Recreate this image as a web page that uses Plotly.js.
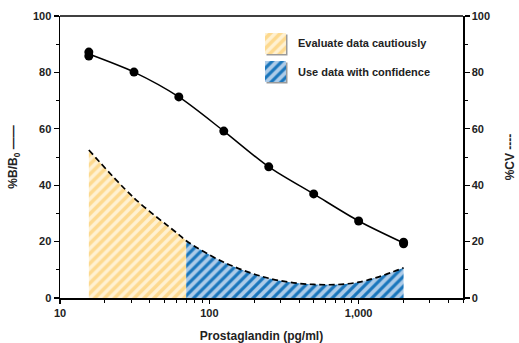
<!DOCTYPE html>
<html><head><meta charset="utf-8">
<script src="https://cdn.plot.ly/plotly-3.0.1.min.js"></script>
<style>html,body{margin:0;padding:0;background:#fff}</style>
</head><body>
<div id="chart" style="width:519px;height:343px"></div>
<script>
// ---- data ----
const stdConc = [15.6, 15.6, 31.3, 62.5, 125, 250, 500, 1000, 2000, 2000];   // pg/ml
const stdBB0  = [87.2, 85.8, 80.1, 71.3, 59.2, 46.5, 36.9, 27.3, 19.8, 19.2]; // %B/B0 points
const fitConc = [15.6, 31.3, 62.5, 125, 250, 500, 1000, 2000];
const fitBB0  = [86.5, 80.1, 71.3, 59.2, 46.5, 36.9, 27.3, 19.5];             // fitted curve
const cvConc  = [15.6, 31.3, 62.5, 70, 125, 250, 500, 1000, 2000];
const cvVal   = [52.5, 35.5, 22.5, 20.3, 12.7, 7.0, 4.8, 5.6, 10.7];           // %CV
const cautionLimit = 70;  // pg/ml boundary between the two zones
const xTickVals = [10, 100, 1000];
const xTickText = ['10', '100', '1,000'];
const legendLabels = ['Evaluate data cautiously', 'Use data with confidence'];

const FONT = 'Liberation Sans, Arial, Helvetica, sans-serif';
const yellowPat = {shape: '/', bgcolor: '#fff1d2', fgcolor: '#fdd98e', size: 7, solidity: 0.5};
const bluePat   = {shape: '/', bgcolor: '#adcbe8', fgcolor: '#1a76bc', size: 7, solidity: 0.45};

const yelIdx = cvConc.map((c, i) => i).filter(i => cvConc[i] <= cautionLimit);
const bluIdx = cvConc.map((c, i) => i).filter(i => cvConc[i] >= cautionLimit);

const traces = [
  {x: yelIdx.map(i => cvConc[i]), y: yelIdx.map(i => cvVal[i]), yaxis: 'y2', type: 'scatter', mode: 'lines',
   line: {width: 0, shape: 'spline'}, fill: 'tozeroy', fillcolor: yellowPat.bgcolor, fillpattern: yellowPat,
   showlegend: false, hoverinfo: 'skip'},
  {x: bluIdx.map(i => cvConc[i]), y: bluIdx.map(i => cvVal[i]), yaxis: 'y2', type: 'scatter', mode: 'lines',
   line: {width: 0, shape: 'spline'}, fill: 'tozeroy', fillcolor: bluePat.bgcolor, fillpattern: bluePat,
   showlegend: false, hoverinfo: 'skip'},
  {x: cvConc, y: cvVal, yaxis: 'y2', type: 'scatter', mode: 'lines',
   line: {color: '#000', width: 1.7, dash: '6px,3.5px', shape: 'spline'}, showlegend: false},
  {x: fitConc, y: fitBB0, type: 'scatter', mode: 'lines',
   line: {color: '#000', width: 1.5, shape: 'spline', smoothing: 0.8}, showlegend: false},
  {x: stdConc, y: stdBB0, type: 'scatter', mode: 'markers',
   marker: {color: '#000', size: 9}, showlegend: false}
];

// legend swatches (drawn on an overlay axis in 0..1 units)
const sw = {x0: (265 - 60) / 403, x1: (286 - 60) / 403};
const swY = [[(298 - 54) / 282, (298 - 33) / 282], [(298 - 82) / 282, (298 - 61) / 282]];
[yellowPat, bluePat].forEach((p, k) => {
  const [y0, y1] = swY[k];
  traces.push({x: [sw.x0, sw.x1, sw.x1, sw.x0, sw.x0], y: [y0, y0, y1, y1, y0], xaxis: 'x3', yaxis: 'y3',
    type: 'scatter', mode: 'lines', line: {width: 0}, fill: 'toself', fillcolor: p.bgcolor, fillpattern: p,
    showlegend: false, hoverinfo: 'skip'});
});

const shapes = swY.map(([y0, y1]) => ({type: 'rect', xref: 'paper', yref: 'paper', layer: 'below',
  x0: sw.x0 + 1.5 / 403, x1: sw.x1 + 1.5 / 403, y0: y0 - 1.5 / 282, y1: y1 - 1.5 / 282,
  fillcolor: '#9a9a9a', line: {width: 0}}));

const annotations = legendLabels.map((t, k) => ({
  text: t, xref: 'paper', yref: 'paper', x: (296 - 60) / 403, y: (swY[k][0] + swY[k][1]) / 2,
  xanchor: 'left', yanchor: 'middle', showarrow: false,
  font: {family: FONT, size: 11, color: '#222', weight: 'bold'}}));
// top frame line
shapes.push({type: 'line', xref: 'paper', yref: 'paper', x0: 0, x1: 1, y0: 1, y1: 1, line: {color: '#000', width: 1.5}});

const tickFont = {family: FONT, size: 11, color: '#222', weight: 'bold'};
const yCommon = {range: [0, 100], dtick: 20, ticks: 'outside', ticklen: 5, tickwidth: 1.2, tickcolor: '#000',
  showline: true, linecolor: '#000', linewidth: 1.5, showgrid: false, zeroline: false, tickfont: tickFont,
  minor: {dtick: 10, ticks: 'outside', ticklen: 3, tickwidth: 1, tickcolor: '#000'}, fixedrange: true};

const layout = {
  width: 519, height: 343, margin: {l: 60, r: 56, t: 16, b: 45},
  paper_bgcolor: '#fff', plot_bgcolor: '#fff', showlegend: false,
  font: {family: FONT, color: '#222'},
  xaxis: {type: 'log', range: [1, Math.log10(5000)], tickvals: xTickVals, ticktext: xTickText,
    ticks: 'outside', ticklen: 4, tickwidth: 1.2, tickcolor: '#000',
    minor: {dtick: 'D1', ticks: 'outside', ticklen: 3, tickwidth: 1, tickcolor: '#000'},
    showline: true, linecolor: '#000', linewidth: 1.5, showgrid: false, zeroline: false, tickfont: tickFont,
    title: {text: 'Prostaglandin (pg/ml)', font: {family: FONT, size: 12, color: '#222', weight: 'bold'}, standoff: 14}},
  yaxis: Object.assign({}, yCommon, {
    title: {text: '%B/B<sub>0</sub> ——', font: {family: FONT, size: 12, color: '#222', weight: 'bold'}, standoff: 12}}),
  yaxis2: Object.assign({}, yCommon, {overlaying: 'y', side: 'right',
    title: {text: '%CV ----', font: {family: FONT, size: 12, color: '#222', weight: 'bold'}, standoff: 16}}),
  xaxis3: {overlaying: 'x', range: [0, 1], visible: false, fixedrange: true, anchor: 'y3'},
  yaxis3: {overlaying: 'y', range: [0, 1], visible: false, fixedrange: true, anchor: 'x3'},
  shapes: shapes, annotations: annotations
};

Plotly.newPlot('chart', traces, layout, {displayModeBar: false, staticPlot: true});
</script>
</body></html>
